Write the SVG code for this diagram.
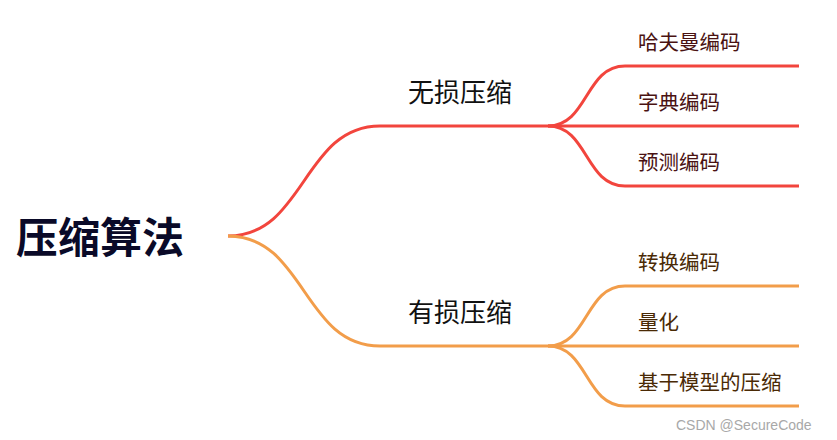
<svg xmlns="http://www.w3.org/2000/svg" width="837" height="440" viewBox="0 0 837 440">
<style>
text{font-family:"Noto Sans CJK SC","Noto Sans",sans-serif}
.root{font-size:42px;font-weight:bold;fill:#0a0a28}
.mid{font-size:26px;fill:#111}
.leafR{font-size:20.5px;fill:#4a1212}
.leafO{font-size:20.5px;fill:#4a2a05}
.r{fill:none;stroke:#f2453d;stroke-width:3}
.o{fill:none;stroke:#f29d4a;stroke-width:3}
.wm{font-family:"Liberation Sans",Arial,sans-serif;font-size:14px;fill:#a8a8a8}
</style>
<rect width="837" height="440" fill="#fff"/>
<g id="connectors">
<path class="r" d="M228,236 C305,236 303,126 380,126 L548,126"/>
<path class="o" d="M228,236 C305,236 303,346 380,346 L548,346"/>
<path class="r" d="M548,126 C588,126 585,66 625,66 L799,66"/>
<path class="r" d="M548,126 L799,126"/>
<path class="r" d="M548,126 C588,126 585,186 625,186 L799,186"/>
<path class="o" d="M548,346 C588,346 585,286 625,286 L799,286"/>
<path class="o" d="M548,346 L799,346"/>
<path class="o" d="M548,346 C588,346 585,406 625,406 L799,406"/>
</g>
<g id="root"><text class="root" x="16" y="253">压缩算法</text></g>
<g id="lossless"><text class="mid" x="408" y="102">无损压缩</text></g>
<g id="lossy"><text class="mid" x="408" y="322">有损压缩</text></g>
<g id="huffman"><text class="leafR" x="638" y="50">哈夫曼编码</text></g>
<g id="dict"><text class="leafR" x="638" y="110">字典编码</text></g>
<g id="predict"><text class="leafR" x="638" y="170">预测编码</text></g>
<g id="transform"><text class="leafO" x="638" y="270">转换编码</text></g>
<g id="quant"><text class="leafO" x="638" y="330">量化</text></g>
<g id="model"><text class="leafO" x="638" y="390">基于模型的压缩</text></g>
<text class="wm" x="676" y="430">CSDN @SecureCode</text>
</svg>
